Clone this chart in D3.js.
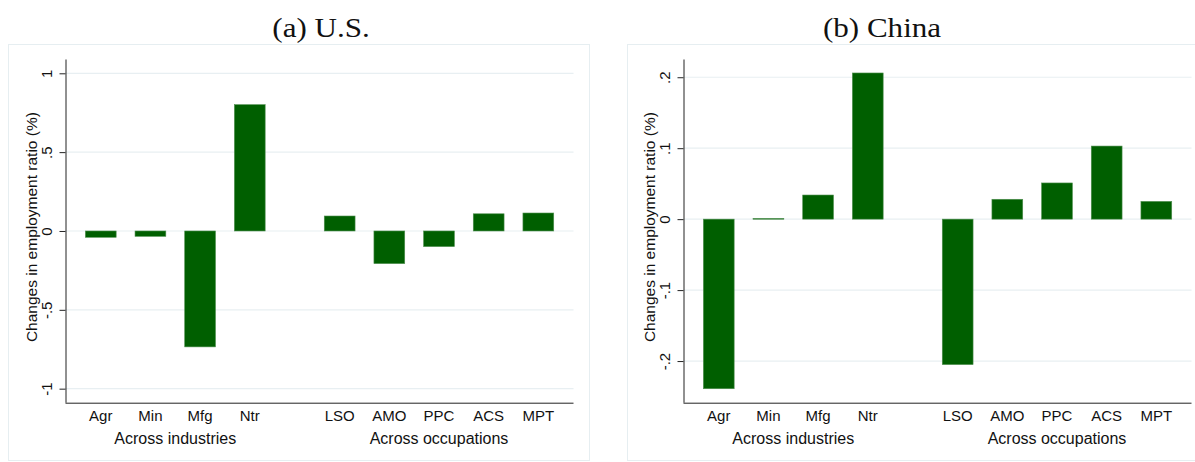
<!DOCTYPE html>
<html>
<head>
<meta charset="utf-8">
<script src="https://cdn.jsdelivr.net/npm/d3@7"></script>
<style>
  html, body { margin: 0; padding: 0; background: #fff; }
  svg { display: block; }
</style>
</head>
<body>
<svg id="chart" width="1195" height="462"></svg>
<script>
// ---- data ----
const categories = ["Agr", "Min", "Mfg", "Ntr", "LSO", "AMO", "PPC", "ACS", "MPT"];
const groupOf = [0, 0, 0, 0, 1, 1, 1, 1, 1];
const groupLabels = ["Across industries", "Across occupations"];
const usValues = [-0.040, -0.034, -0.735, 0.801, 0.095, -0.207, -0.099, 0.109, 0.114];
const chinaValues = [-0.239, 0.001, 0.034, 0.206, -0.205, 0.028, 0.051, 0.103, 0.025];
const usTicks = [-1, -0.5, 0, 0.5, 1];
const usTickLabels = ["-1", "-.5", "0", ".5", "1"];
const chinaTicks = [-0.2, -0.1, 0, 0.1, 0.2];
const chinaTickLabels = ["-.2", "-.1", "0", ".1", ".2"];
const panelTitles = ["(a) U.S.", "(b) China"];
const yTitle = "Changes in employment ratio (%)";

// ---- layout ----
const svg = d3.select("#chart");
const groupGap = 0.81;           // extra slots between the two groups
const barWidthSlots = 0.62;
const plotW = 508;
const plotTop = 59.5, plotBottom = 402.7;

const panels = [
  { x0: 65.5, box: [8, 589], titleX: 321, values: usValues, ticks: usTicks, tickLabels: usTickLabels, domain: [-1.089, 1.0875], title: panelTitles[0] },
  { x0: 683.5, box: [627, 1208], titleX: 882, values: chinaValues, ticks: chinaTicks, tickLabels: chinaTickLabels, domain: [-0.2587, 0.225], title: panelTitles[1] }
];

const slotOf = (i) => i + groupOf[i] * groupGap;

panels.forEach(p => {
  const g = svg.append("g");

  // outer box
  g.append("rect")
    .attr("x", p.box[0] + 0.5).attr("y", 44.5)
    .attr("width", p.box[1] - p.box[0]).attr("height", 416)
    .attr("fill", "#fff").attr("stroke", "#e6eef1").attr("stroke-width", 1);

  // title
  g.append("text")
    .attr("transform", `translate(${p.titleX},37) scale(1.15,1)`)
    .attr("text-anchor", "middle")
    .attr("font-family", "'Liberation Serif', 'DejaVu Serif', serif")
    .attr("font-size", 27)
    .attr("fill", "#111")
    .text(p.title);

  const x = d3.scaleLinear().domain([-0.71, 9.518]).range([p.x0, p.x0 + plotW]);
  const y = d3.scaleLinear().domain(p.domain).range([plotBottom, plotTop]);

  // gridlines
  g.append("g").selectAll("line").data(p.ticks).join("line")
    .attr("x1", p.x0).attr("x2", p.x0 + plotW)
    .attr("y1", d => y(d)).attr("y2", d => y(d))
    .attr("stroke", "#e8eff2").attr("stroke-width", 1.2);

  // bars
  const bw = x(barWidthSlots) - x(0);
  g.append("g").selectAll("rect").data(p.values).join("rect")
    .attr("x", (d, i) => x(slotOf(i)) - bw / 2)
    .attr("width", bw)
    .attr("y", d => y(Math.max(0, d)))
    .attr("height", d => Math.max(0.8, Math.abs(y(d) - y(0))))
    .attr("fill", "#005f00")
    .attr("stroke", "#4f8f4f").attr("stroke-width", 0.6);

  // y axis
  const yAxis = d3.axisLeft(y).tickValues(p.ticks)
    .tickFormat((d, i) => p.tickLabels[i]).tickSize(6).tickPadding(5);
  const ya = g.append("g").attr("transform", `translate(${p.x0},0)`).call(yAxis);
  ya.select(".domain").attr("d", `M0.5,${plotTop}V${plotBottom}`).attr("stroke", "#222");
  ya.selectAll(".tick line").attr("stroke", "#222");
  ya.selectAll(".tick text")
    .attr("font-family", "'Liberation Sans', Arial, sans-serif")
    .attr("font-size", 15).attr("fill", "#111")
    .attr("text-anchor", "middle")
    .attr("x", null).attr("dy", null)
    .attr("transform", "translate(-17,0) rotate(-90)")
    .attr("dominant-baseline", "middle");

  // x axis (category labels, no ticks)
  g.append("line")
    .attr("x1", p.x0).attr("x2", p.x0 + plotW)
    .attr("y1", plotBottom + 0.5).attr("y2", plotBottom + 0.5)
    .attr("stroke", "#222");

  g.append("g").selectAll("text").data(categories).join("text")
    .attr("x", (d, i) => x(slotOf(i)))
    .attr("y", 421)
    .attr("text-anchor", "middle")
    .attr("font-family", "'Liberation Sans', Arial, sans-serif")
    .attr("font-size", 15).attr("fill", "#111")
    .text(d => d);

  g.append("g").selectAll("text").data(groupLabels).join("text")
    .attr("x", (d, gi) => {
      const idx = categories.map((c, i) => i).filter(i => groupOf[i] === gi);
      return (x(slotOf(idx[0])) + x(slotOf(idx[idx.length - 1]))) / 2;
    })
    .attr("y", 444)
    .attr("text-anchor", "middle")
    .attr("font-family", "'Liberation Sans', Arial, sans-serif")
    .attr("font-size", 16).attr("fill", "#111")
    .text(d => d);

  // y title
  g.append("text")
    .attr("transform", `translate(${p.x0 - 29},${(plotTop + plotBottom) / 2 - 4}) rotate(-90)`)
    .attr("text-anchor", "middle")
    .attr("font-family", "'Liberation Sans', Arial, sans-serif")
    .attr("font-size", 15.5).attr("fill", "#111")
    .text(yTitle);
});
</script>
</body>
</html>
